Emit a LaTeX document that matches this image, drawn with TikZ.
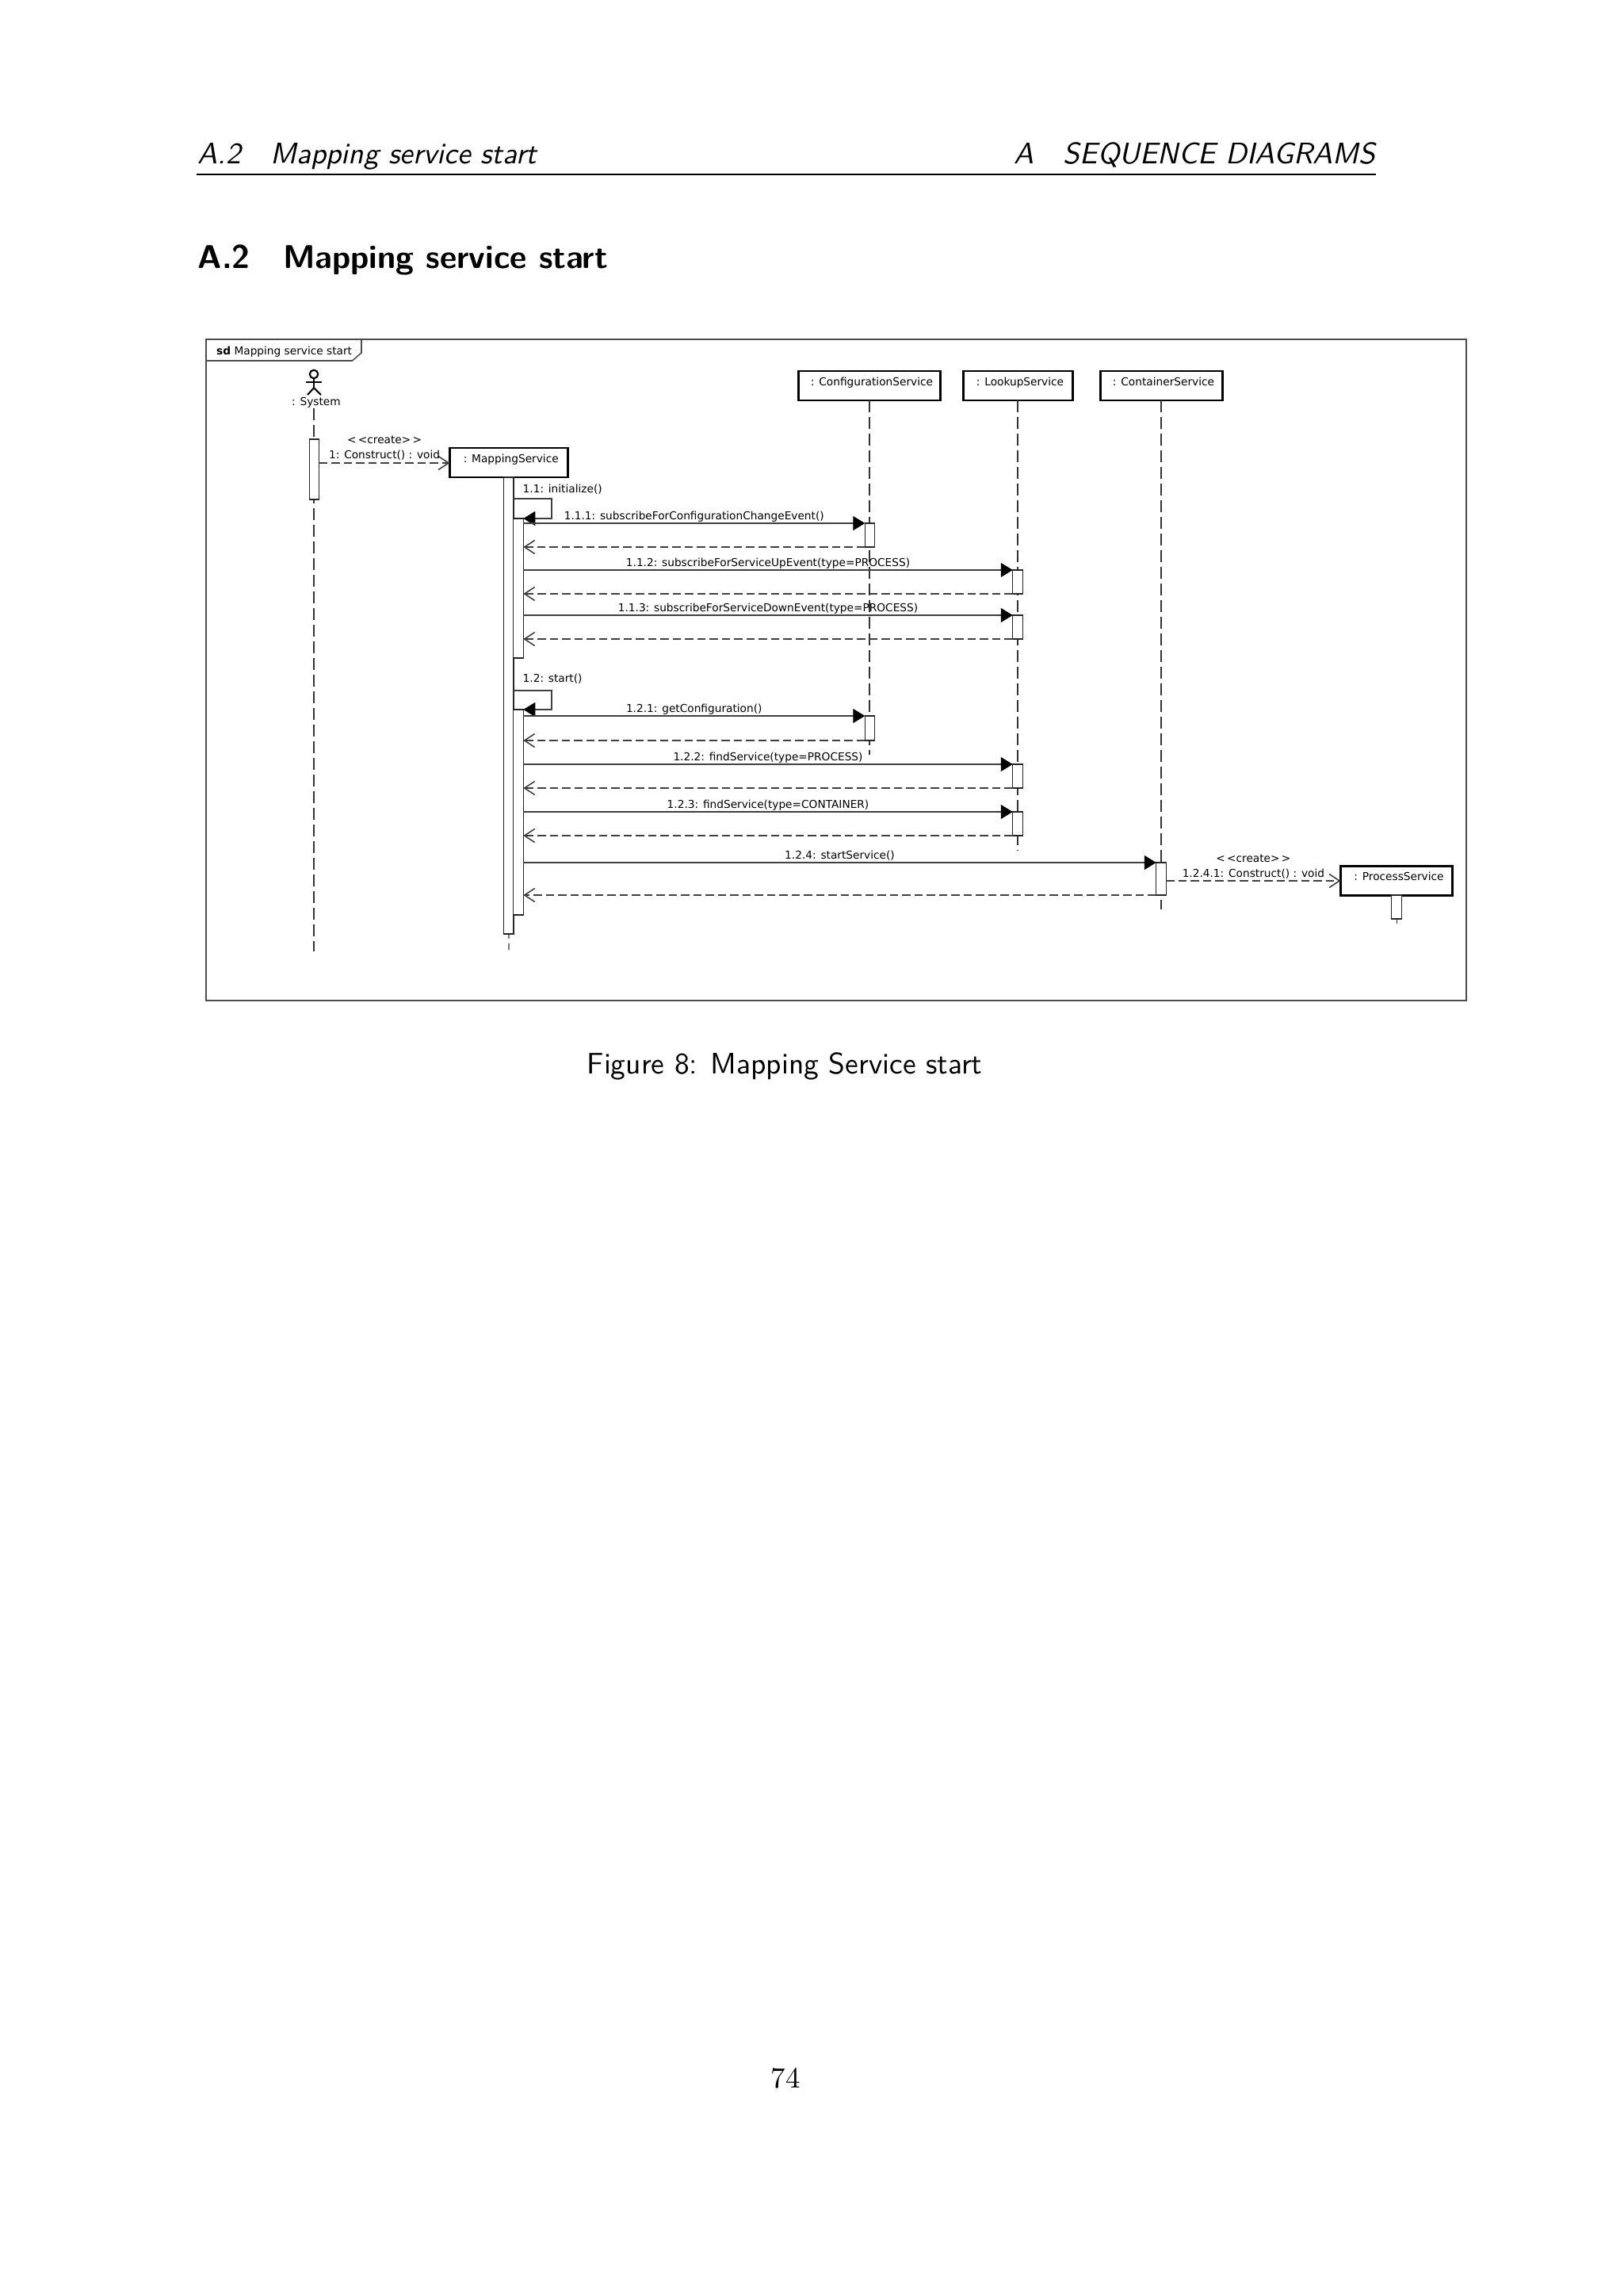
\documentclass[tikz,border=0pt]{standalone}
\usepackage{fontspec}
\usetikzlibrary{arrows.meta}
\newfontfamily\umlfont{DejaVu Sans}
\newcommand\umltext{\umlfont\fontsize{3.9pt}{4.7pt}\selectfont}

\begin{document}
\begin{tikzpicture}[
 obj/.style={draw=black,line width=0.85pt,fill=white,inner xsep=0pt,inner ysep=0pt,outer sep=0pt,
 minimum height=0.37cm,text height=0.185cm,text depth=0.185cm,font=\umltext,
 execute at begin node=\hspace*{0.06cm}},
 bar/.style={draw=black!85,line width=0.35pt,fill=white,inner sep=0pt,outer sep=0pt,
 minimum width=0.125cm,anchor=north},
 life/.style={black!80,line width=0.3pt,dash pattern=on 0.15cm off 0.06cm},
 call/.style={-{Triangle[length=0.15cm,width=0.18cm,black]},black!75,line width=0.45pt},
 ret/.style={-{Straight Barb[length=0.13cm,width=0.17cm]},black!75,line width=0.45pt,
 dash pattern=on 0.105cm off 0.05cm},
 lab/.style={text=black,font=\umltext,inner sep=0pt,midway,yshift=0.10cm,text height=0.14cm,text depth=0.04cm},
 txt/.style={font=\umltext,inner sep=0pt,text height=0.14cm,text depth=0.04cm,anchor=west},
 page/.style={font=\sffamily\fontsize{10.66pt}{13pt}\selectfont,inner sep=0pt}]
\useasboundingbox (0,0) rectangle (20.48,-28.96);
% page around the figure
\node[page,anchor=base west,font=\sffamily\itshape\fontsize{10.66pt}{13pt}\selectfont] (headl) at (2.49,-2.07) {A.2\hspace{1em}Mapping service start};
\node[page,anchor=base east,font=\sffamily\itshape\fontsize{10.66pt}{13pt}\selectfont] (headr) at (17.36,-2.07) {A\hspace{1em}SEQUENCE DIAGRAMS};
\coordinate (rulel) at (2.48,-2.20); \coordinate (ruler) at (17.36,-2.20);
\draw[line width=0.3pt] (rulel)--(ruler);
\node[page,anchor=base west,font=\sffamily\bfseries\fontsize{11.8pt}{14pt}\selectfont] (sect) at (2.49,-3.385) {A.2\hspace{1em}Mapping service start};
\node[page,anchor=base] (capt) at (9.90,-13.54) {Figure 8: Mapping Service start};
\node[anchor=base,inner sep=0pt,font=\rmfamily\fontsize{10.5pt}{13pt}\selectfont] (pnum) at (9.91,-26.33) {74};
% frame
\draw[black!70,line width=0.45pt] (2.60,-4.28) rectangle (18.50,-12.62);
\draw[black!70,line width=0.45pt] (2.60,-4.55) -- (4.445,-4.55) -- (4.56,-4.45) -- (4.56,-4.28);
\node[txt] (sd) at (2.725,-4.43) {\textbf{sd} Mapping service start};
% objects
\node[obj,minimum width=1.485cm] (mapping) at (6.4175,-5.835) {: MappingService};
\node[obj,minimum width=1.79cm] (config) at (10.97,-4.865) {: ConfigurationService};
\node[obj,minimum width=1.38cm] (lookup) at (12.84,-4.865) {: LookupService};
\node[obj,minimum width=1.54cm] (cont) at (14.65,-4.865) {: ContainerService};
\node[obj,minimum width=1.41cm] (proc) at (17.62,-11.105) {: ProcessService};
% actor
\node[draw=black,line width=0.6pt,circle,inner sep=0pt,minimum size=0.105cm] (head) at (3.96,-4.72) {};
\draw[black,line width=0.6pt] (head.south) -- ++(0,-0.11) coordinate (hip);
\draw[black,line width=0.6pt] (3.86,-4.82) -- (4.06,-4.82);
\draw[black,line width=0.6pt] (3.88,-4.98) -- (hip) -- (4.05,-4.98);
\node[txt,anchor=center] (sysname) at (3.99,-5.07) {: System};
% lifelines
\coordinate (systop) at (3.96,-5.15); \coordinate (sysend) at (3.96,-12.00);
\coordinate (mapend) at (6.42,-11.98);
\coordinate (cfgend) at (10.97,-9.52);
\coordinate (lkpend) at (12.84,-10.72);
\coordinate (cntend) at (14.65,-11.47);
\coordinate (prcend) at (17.62,-11.65);
\draw[life] (systop)--(sysend);
\draw[life] (mapping)--(mapend);
\draw[life] (config)--(cfgend);
\draw[life] (lookup)--(lkpend);
\draw[life] (cont)--(cntend);
\draw[life] (proc)--(prcend);
% activation bars
\node[bar,minimum height=0.76cm] (sysbar) at (3.965,-5.54) {};
\node[bar,minimum height=5.76cm] (mapbar) at (mapping.south) {};
\node[bar,minimum height=1.76cm] (act1) at (6.54,-6.54) {};
\node[bar,minimum height=2.59cm] (act2) at (6.54,-8.95) {};
\node[bar,minimum height=0.30cm] (cfg1) at (10.975,-6.60) {};
\node[bar,minimum height=0.30cm] (lkp1) at (12.84,-7.19) {};
\node[bar,minimum height=0.30cm] (lkp2) at (12.84,-7.76) {};
\node[bar,minimum height=0.31cm] (cfg2) at (10.975,-9.03) {};
\node[bar,minimum height=0.30cm] (lkp3) at (12.84,-9.64) {};
\node[bar,minimum height=0.30cm] (lkp4) at (12.84,-10.24) {};
\node[bar,minimum height=0.41cm] (cnt1) at (14.65,-10.88) {};
\node[bar,minimum height=0.30cm] (prc1) at (17.62,-11.29) {};
% create messages
\draw[ret] (sysbar.east |- 0,-5.84) coordinate (cr1) -- (cr1 -| mapping.west)
 node[lab] (c1) {1: Construct() : void} node[lab,yshift=0.19cm] (s1) {<\,<create>\,>};
\draw[ret] (cnt1.east |- 0,-11.11) coordinate (cr2) -- (cr2 -| proc.west)
 node[lab] (c2) {1.2.4.1: Construct() : void} node[lab,yshift=0.19cm] (s2) {<\,<create>\,>};
% self calls
\coordinate (loop1) at (6.48,-6.29); \coordinate (loop2) at (6.48,-8.71);
\draw[call] (loop1) -- ++(0.48,0) |- (act1.north east);
\draw[call] (loop2) -- ++(0.48,0) |- (act2.north east);
\node[txt] (l11) at (6.59,-6.16) {1.1: initialize()};
\node[txt] (l12) at (6.59,-8.55) {1.2: start()};
% calls and returns
\draw[call] (act1.east |- cfg1.north west) -- (cfg1.north west) node[lab] (l111) {1.1.1: subscribeForConfigurationChangeEvent()};
\draw[ret] (cfg1.south west) -- (act1.east |- cfg1.south west);
\draw[call] (act1.east |- lkp1.north west) -- (lkp1.north west) node[lab] (l112) {1.1.2: subscribeForServiceUpEvent(type=PROCESS)};
\draw[ret] (lkp1.south west) -- (act1.east |- lkp1.south west);
\draw[call] (act1.east |- lkp2.north west) -- (lkp2.north west) node[lab] (l113) {1.1.3: subscribeForServiceDownEvent(type=PROCESS)};
\draw[ret] (lkp2.south west) -- (act1.east |- lkp2.south west);
\draw[call] (act2.east |- cfg2.north west) -- (cfg2.north west) node[lab] (l121) {1.2.1: getConfiguration()};
\draw[ret] (cfg2.south west) -- (act2.east |- cfg2.south west);
\draw[call] (act2.east |- lkp3.north west) -- (lkp3.north west) node[lab] (l122) {1.2.2: findService(type=PROCESS)};
\draw[ret] (lkp3.south west) -- (act2.east |- lkp3.south west);
\draw[call] (act2.east |- lkp4.north west) -- (lkp4.north west) node[lab] (l123) {1.2.3: findService(type=CONTAINER)};
\draw[ret] (lkp4.south west) -- (act2.east |- lkp4.south west);
\draw[call] (act2.east |- cnt1.north west) -- (cnt1.north west) node[lab] (l124) {1.2.4: startService()};
\draw[ret] (cnt1.south west) -- (act2.east |- cnt1.south west);
\end{tikzpicture}
\end{document}
